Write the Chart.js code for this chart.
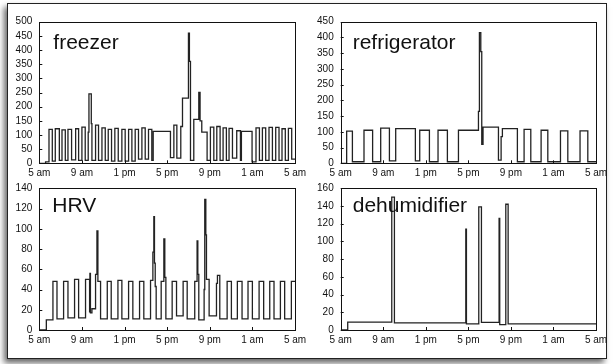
<!DOCTYPE html>
<html>
<head>
<meta charset="utf-8">
<script src="https://cdn.jsdelivr.net/npm/chart.js@4.4.1/dist/chart.umd.min.js"></script>
<style>
    body { margin: 0; background: #fff; }
    #wrap { position: relative; width: 613px; height: 364px; overflow: hidden; }
    #frame { position: absolute; left: 7px; top: 3px; width: 598px; height: 354px; border: 1px solid #222; box-shadow: -3px 4px 6px rgba(0,0,0,0.6); background: #fff; }
    canvas { position: absolute; left: 0; top: 0; }
</style>
</head>
<body>
<div id="wrap">
    <div id="frame"></div>
    <canvas id="freezerChart" width="613" height="364"></canvas>
    <canvas id="refrigChart" width="613" height="364"></canvas>
    <canvas id="hrvChart" width="613" height="364"></canvas>
    <canvas id="dehumChart" width="613" height="364"></canvas>
</div>
<script>
// hours since 5 am, tick labels every 4 hours
const hourTicks = ["5 am", "9 am", "1 pm", "5 pm", "9 pm", "1 am", "5 am"];

// each value holds from its hour until the next one
const freezerHours = [0, 0.59, 0.91, 1.22, 1.5, 1.88, 2.13, 2.44, 2.69, 3.03, 3.41, 3.69, 4.0, 4.31, 4.59, 4.66, 4.88, 4.94, 5.28, 5.56,
    5.88, 6.19, 6.47, 6.78, 7.09, 7.41, 7.75, 8.06, 8.38, 8.69, 9.0, 9.31, 9.63, 9.94, 10.25, 10.56, 10.69, 12.31, 12.63, 12.91,
    13.28, 13.44, 14.0, 14.09, 14.19, 14.5, 14.97, 15.09, 15.25, 15.75, 16.06, 16.38, 16.66, 16.97, 17.25, 17.56, 17.81, 18.13, 18.53, 18.88,
    18.97, 19.97, 20.34, 20.66, 20.94, 21.25, 21.56, 21.88, 22.19, 22.5, 22.78, 23.09, 23.38, 23.69, 24];
const freezerWatts = [0, 5, 120, 8, 122, 10, 118, 10, 120, 12, 122, 10, 128, 10, 110, 245, 140, 10, 135, 10,
    125, 10, 120, 8, 123, 8, 120, 8, 120, 8, 120, 15, 125, 15, 120, 10, 113, 20, 135, 18,
    130, 230, 460, 360, 10, 155, 250, 150, 110, 10, 128, 10, 130, 10, 125, 10, 123, 18, 115, 10,
    113, 5, 125, 10, 125, 10, 127, 10, 127, 10, 122, 10, 123, 15, 15];

const refrigHours = [0, 0.56, 1.1, 2.19, 3.0, 3.76, 4.58, 5.17, 7.02, 7.43, 8.34, 9.15, 10.03, 11.07, 12.95, 13.04, 13.17, 13.26, 13.38, 14.83,
    15.08, 15.2, 16.61, 17.24, 17.87, 18.84, 19.47, 20.66, 21.35, 22.5, 23.23, 24];
const refrigWatts = [0, 102, 5, 105, 5, 112, 8, 110, 8, 105, 5, 105, 5, 105, 165, 415, 355, 60, 115, 10,
    85, 110, 5, 108, 5, 105, 5, 103, 5, 103, 5, 5];

const hrvHours = [0, 0.66, 1.28, 1.66, 2.28, 2.69, 3.31, 3.69, 4.34, 4.72, 4.75, 4.8, 4.94, 5.28, 5.41, 5.5, 5.75, 6.38, 6.75, 7.38,
    7.75, 8.38, 8.78, 9.41, 9.81, 10.44, 10.66, 10.75, 10.81, 10.88, 10.97, 11.44, 11.69, 11.78, 11.88, 12.47, 12.88, 13.5, 13.88, 14.59,
    14.81, 14.88, 14.97, 15.47, 15.53, 15.63, 15.69, 15.94, 16.63, 16.72, 16.94, 17.63, 18.03, 18.59, 19.03, 19.59, 20.0, 20.63, 21.06, 21.63,
    22.03, 22.63, 23.03, 23.66, 24];
const hrvWatts = [0, 10, 48, 11, 48, 12, 50, 12, 50, 18, 56, 17, 21, 55, 98, 48, 11, 48, 11, 49,
    11, 48, 11, 48, 11, 49, 77, 112, 66, 43, 11, 48, 90, 52, 11, 48, 14, 48, 11, 48,
    88, 55, 10, 40, 129, 94, 50, 14, 46, 54, 11, 48, 11, 48, 11, 48, 11, 48, 11, 48,
    11, 48, 11, 48, 48];

const dehumHours = [0, 0.66, 4.8, 5.05, 11.76, 11.82, 12.98, 13.23, 14.89, 14.95, 15.52, 15.74, 24];
const dehumWatts = [0, 9, 150, 8, 114, 7, 139, 8.5, 126, 6, 142, 7, 7];

const panels = [
    { id: "freezerChart", label: "freezer", hours: freezerHours, watts: freezerWatts, yMax: 500, yStep: 50,
      box: [39.3, 21.7, 295, 163.3], dx: 14, dy: 27 },
    { id: "refrigChart", label: "refrigerator", hours: refrigHours, watts: refrigWatts, yMax: 450, yStep: 50,
      box: [340.7, 21.7, 596, 163.3], dx: 12, dy: 27 },
    { id: "hrvChart", label: "HRV", hours: hrvHours, watts: hrvWatts, yMax: 140, yStep: 20,
      box: [39.3, 188.3, 295, 330], dx: 13, dy: 23.5 },
    { id: "dehumChart", label: "dehumidifier", hours: dehumHours, watts: dehumWatts, yMax: 160, yStep: 20,
      box: [340.7, 188.3, 596, 330], dx: 12, dy: 23.5 }
];

const FONT = '"Liberation Sans", Arial, Helvetica, sans-serif';
const INK = "#111";

// closed box, inward tick marks and the panel name
const panelFrame = {
    id: "panelFrame",
    afterDraw(chart, args, opts) {
        const { ctx, chartArea: a, scales: { x, y } } = chart;
        ctx.save();
        ctx.strokeStyle = INK;
        ctx.lineWidth = 1;
        ctx.strokeRect(Math.round(a.left) + 0.5, Math.round(a.top) + 0.5,
            Math.round(a.right) - Math.round(a.left), Math.round(a.bottom) - Math.round(a.top));
        ctx.beginPath();
        x.ticks.forEach(t => {
            const px = Math.round(x.getPixelForValue(t.value)) + 0.5;
            ctx.moveTo(px, a.bottom);
            ctx.lineTo(px, a.bottom - 3);
        });
        y.ticks.forEach(t => {
            const py = Math.round(y.getPixelForValue(t.value)) + 0.5;
            ctx.moveTo(a.left, py);
            ctx.lineTo(a.left + 3, py);
        });
        ctx.stroke();
        ctx.fillStyle = INK;
        ctx.font = "21px " + FONT;
        ctx.textBaseline = "alphabetic";
        ctx.fillText(opts.label, a.left + opts.dx, a.top + opts.dy);
        ctx.restore();
    }
};

const Y_W = 30, X_H = 16;

panels.forEach(p => {
    const [l, t, r, b] = p.box;
    new Chart(document.getElementById(p.id), {
        type: "line",
        data: {
            datasets: [{
                data: p.hours.map((h, i) => ({ x: h, y: p.watts[i] })),
                stepped: true,
                borderColor: "#222",
                borderWidth: 1.3,
                pointRadius: 0,
                fill: false
            }]
        },
        options: {
            responsive: false,
            animation: false,
            events: [],
            layout: { padding: { left: l - Y_W, top: t, right: 613 - r, bottom: 364 - b - X_H } },
            plugins: {
                legend: { display: false },
                tooltip: { enabled: false },
                panelFrame: { label: p.label, dx: p.dx, dy: p.dy }
            },
            scales: {
                x: {
                    type: "linear",
                    min: 0,
                    max: 24,
                    afterFit(s) { s.height = X_H; },
                    grid: { display: false, drawTicks: false },
                    border: { display: false },
                    ticks: {
                        stepSize: 4,
                        padding: 4,
                        autoSkip: false,
                        maxRotation: 0,
                        color: INK,
                        font: { family: FONT, size: 10 },
                        callback: (v) => hourTicks[v / 4]
                    }
                },
                y: {
                    min: 0,
                    max: p.yMax,
                    afterFit(s) { s.width = Y_W; },
                    grid: { display: false, drawTicks: false },
                    border: { display: false },
                    ticks: {
                        stepSize: p.yStep,
                        padding: 7,
                        autoSkip: false,
                        color: INK,
                        font: { family: FONT, size: 10 }
                    }
                }
            }
        },
        plugins: [panelFrame]
    });
});
</script>
</body>
</html>
